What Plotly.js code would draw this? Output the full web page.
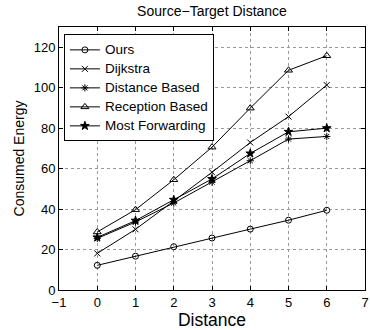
<!DOCTYPE html>
<html><head><meta charset="utf-8">
<script src="https://cdn.plot.ly/plotly-3.0.1.min.js"></script>
<style>body{margin:0;padding:0;background:#fff}#chart{width:370px;height:330px}</style>
</head><body><div id="chart"></div>
<script>
const distances = [0, 1, 2, 3, 4, 5, 6];
const seriesNames = ["Ours", "Dijkstra", "Distance Based", "Reception Based", "Most Forwarding"];
const ours = [12.2, 16.7, 21.4, 25.7, 30.1, 34.5, 39.4];
const dijkstra = [18.1, 30.0, 44.0, 58.2, 72.9, 85.7, 101.3];
const distanceBased = [25.5, 33.6, 43.0, 53.3, 63.9, 74.6, 75.9];
const receptionBased = [28.7, 39.7, 54.5, 70.6, 89.9, 108.6, 115.8];
const mostForwarding = [26.0, 34.3, 44.6, 54.9, 67.5, 78.2, 80.0];
const xTicks = [-1, 0, 1, 2, 3, 4, 5, 6, 7];
const yTicks = [0, 20, 40, 60, 80, 100, 120];

const values = [ours, dijkstra, distanceBased, receptionBased, mostForwarding];
const symbols = ["circle-open", "x-thin-open", "asterisk-open", "triangle-up-open", "star"];
const sizes = [6, 6, 6, 7, 6.5];

const traces = values.map((v, i) => ({
  x: distances, y: v, name: '<span style="font-size:13.5px">' + seriesNames[i] + '</span>',
  type: "scatter", mode: "lines+markers",
  line: {color: "#000", width: 1},
  marker: {symbol: symbols[i], size: sizes[i], color: "#000", line: {color: "#000", width: 1}}
}));

const fam = "Liberation Sans, Arial, sans-serif";
const font = (s) => ({family: fam, color: "#000", size: s});
const layout = {
  width: 370, height: 330,
  margin: {l: 59, r: 5, t: 27, b: 40},
  paper_bgcolor: "#fff", plot_bgcolor: "#fff",
  font: font(12),
  title: {text: "Source\u2212Target Distance", font: font(14), x: 0.573, xanchor: "center", y: 0.966, yanchor: "middle"},
  showlegend: true,
  legend: {x: 0.016, y: 0.972, xanchor: "left", yanchor: "top", bgcolor: "#fff", bordercolor: "#000", borderwidth: 1,
    font: font(11), tracegroupgap: 0, itemwidth: 30},
  xaxis: {range: [-1, 7], tickvals: xTicks, ticktext: xTicks.map(t => t < 0 ? "\u2212" + Math.abs(t) : String(t)),
    ticks: "inside", ticklen: 4, tickcolor: "#000", showline: true, linecolor: "#000", linewidth: 1, mirror: "ticks",
    showgrid: true, gridcolor: "#999", griddash: "dot", gridwidth: 1, zeroline: false,
    tickfont: font(13),
    title: {text: "Distance", font: font(17.5), standoff: 0}},
  yaxis: {range: [0, 130], tickvals: yTicks,
    ticks: "inside", ticklen: 4, tickcolor: "#000", showline: true, linecolor: "#000", linewidth: 1, mirror: "ticks",
    showgrid: true, gridcolor: "#999", griddash: "dot", gridwidth: 1, zeroline: false,
    tickfont: font(13),
    title: {text: "Consumed Energy", font: font(14), standoff: 5}}
};
Plotly.newPlot("chart", traces, layout, {displayModeBar: false, staticPlot: true});
</script></body></html>
